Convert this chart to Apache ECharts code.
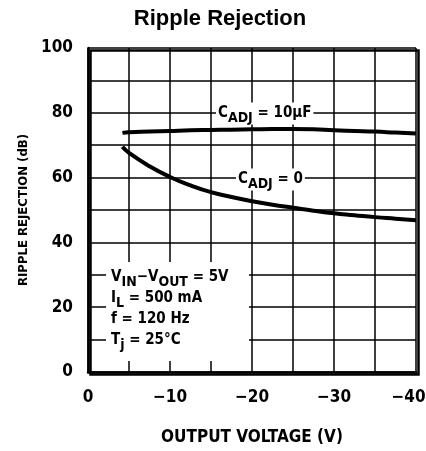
<!DOCTYPE html>
<html><head><meta charset="utf-8">
<script src="https://cdn.jsdelivr.net/npm/echarts@6/dist/echarts.min.js"></script>
<style>html,body{margin:0;padding:0;background:#fff}#c{width:426px;height:451px}</style>
</head><body><div id="c"></div>
<script>
var titleText = 'Ripple Rejection';
var xAxisName = 'OUTPUT VOLTAGE (V)';
var yAxisName = 'RIPPLE REJECTION (dB)';
var xTickLabels = ['0', '\u221210', '\u221220', '\u221230', '\u221240'];
var yTickLabels = ['0', '20', '40', '60', '80', '100'];
var voltage = [-4.2, -5, -7.5, -10, -12.5, -15, -17.5, -20, -22.5, -25, -27.5, -30, -32.5, -35, -37.5, -40];
var cAdj10uF = [73.8, 74.0, 74.2, 74.4, 74.6, 74.7, 74.8, 74.9, 75.0, 75.0, 74.9, 74.6, 74.4, 74.2, 73.9, 73.6];
var cAdj0 = [69.5, 67.6, 63.5, 60.2, 57.6, 55.5, 54.0, 52.7, 51.6, 50.7, 49.8, 49.0, 48.4, 47.8, 47.3, 46.8];

var F = '"DejaVu Sans Condensed", "Liberation Sans Narrow", sans-serif';
function pairs(xs, ys){ return xs.map(function(x,i){ return [x, ys[i]]; }); }

var chart = echarts.init(document.getElementById('c'));
var rich = {
  m: {fontFamily: F, fontWeight: 'bold', fontSize: 15, color: '#000', lineHeight: 22},
  s: {fontFamily: F, fontWeight: 'bold', fontSize: 14, color: '#000', padding: [9, 0, 0, 0], lineHeight: 22}
};
var tickStyle = {fontFamily: F, fontWeight: 'bold', fontSize: 17, color: '#000'};
chart.setOption({
  animation: false,
  backgroundColor: '#fff',
  title: {text: titleText, left: 215, top: 3, textAlign: 'center',
    textStyle: {fontFamily: 'Liberation Sans, Arial, sans-serif', fontWeight: 'bold', fontSize: 22, color: '#000'}},
  grid: {left: 88, right: 10, top: 48, bottom: 79, outerBoundsMode: 'none', containLabel: false},
  xAxis: {type: 'value', min: -40, max: 0, interval: 5, inverse: true,
    name: xAxisName, nameLocation: 'middle', nameGap: 57,
    nameTextStyle: {fontFamily: F, fontWeight: 'bold', fontSize: 17, color: '#000'},
    axisLine: {show: true, onZero: false, lineStyle: {color: '#000', width: 2.5}},
    axisTick: {show: false},
    splitLine: {show: true, lineStyle: {color: '#000', width: 1.5}},
    axisLabel: {margin: 17, fontFamily: F, fontWeight: 'bold', fontSize: 17, color: '#000',
      rich: {e: Object.assign({padding: [0, 15, 0, 0]}, tickStyle)},
      formatter: function(v){
        if (v % 10 !== 0) return '';
        var t = xTickLabels[Math.round(-v/10)];
        return v === -40 ? '{e|' + t + '}' : t;
      }}
  },
  yAxis: {type: 'value', min: 0, max: 100, interval: 10,
    name: yAxisName, nameLocation: 'middle', nameGap: 57, nameRotate: 90,
    nameTextStyle: {fontFamily: F, fontWeight: 'bold', fontSize: 13, color: '#000'},
    axisLine: {show: true, lineStyle: {color: '#000', width: 2.5}},
    axisTick: {show: false},
    splitLine: {show: true, lineStyle: {color: '#000', width: 1.5}},
    axisLabel: {margin: 15, fontFamily: F, fontWeight: 'bold', fontSize: 17, color: '#000',
      formatter: function(v){ return (v % 20 === 0) ? yTickLabels[v/20] : ''; }}
  },
  graphic: [
    {type: 'rect', left: 88, top: 48, shape: {width: 328, height: 324}, style: {fill: 'none', stroke: '#000', lineWidth: 2.5}, z: 50},
    {type: 'rect', left: 106, top: 262, shape: {width: 143, height: 99}, style: {fill: '#fff'}, z: 40},
    {type: 'text', left: 216, top: 102, z: 60, style: {text: '{m|C}{s|ADJ}{m| = 10\u00b5F}', rich: rich, backgroundColor: '#fff', padding: [0, 2, 0, 2]}},
    {type: 'text', left: 236, top: 168, z: 60, style: {text: '{m|C}{s|ADJ}{m| = 0}', rich: rich, backgroundColor: '#fff', padding: [0, 2, 0, 2]}},
    {type: 'text', left: 111, top: 266, z: 60, style: {text: '{m|V}{s|IN}{m|\u2212V}{s|OUT}{m| = 5V}', rich: rich}},
    {type: 'text', left: 111, top: 287, z: 60, style: {text: '{m|I}{s|L}{m| = 500 mA}', rich: rich}},
    {type: 'text', left: 111, top: 308, z: 60, style: {text: '{m|f = 120 Hz}{s| }', rich: rich}},
    {type: 'text', left: 111, top: 329, z: 60, style: {text: '{m|T}{s|j}{m| = 25\u00b0C}', rich: rich}}
  ],
  series: [
    {type: 'line', name: 'CADJ = 10uF', data: pairs(voltage, cAdj10uF), smooth: true, symbol: 'none',
      lineStyle: {color: '#000', width: 4}, z: 10},
    {type: 'line', name: 'CADJ = 0', data: pairs(voltage, cAdj0), smooth: true, symbol: 'none',
      lineStyle: {color: '#000', width: 4}, z: 10}
  ]
});
</script></body></html>
